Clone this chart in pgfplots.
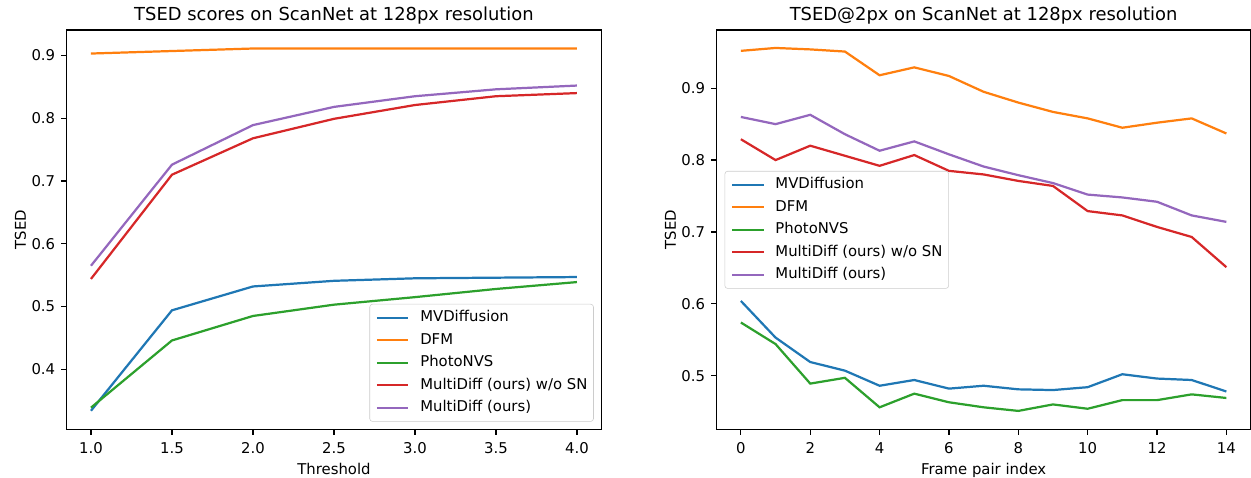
\documentclass[border=0pt]{standalone}
\usepackage{fontspec}
\setmainfont{DejaVu Sans}
\usepackage{pgfplots}
\pgfplotsset{compat=1.18}

\definecolor{c0}{HTML}{1F77B4}
\definecolor{c1}{HTML}{FF7F0E}
\definecolor{c2}{HTML}{2CA02C}
\definecolor{c3}{HTML}{D62728}
\definecolor{c4}{HTML}{9467BD}

\newcommand{\fs}{\fontsize{10.7}{12.8}\selectfont}

\pgfplotsset{
  mpl/.style={
    scale only axis,
    axis line style={line width=0.85pt},
    tick align=outside,
    major tick length=3.75pt,
    tick style={line width=0.85pt, black},
    xtick pos=lower, ytick pos=left,
    /pgf/number format/assume math mode=true,
    tick label style={font=\fs},
    xticklabel style={yshift=-2pt},
    yticklabel style={xshift=-1pt},
    label style={font=\fs},
    ylabel style={yshift=-3pt},
    title style={font=\fontsize{12.9}{15}\selectfont, at={(0.5,1)}, anchor=base, yshift=0.6pt},
    every axis plot/.append style={line width=1.6pt},
    legend style={draw=black!20, rounded corners=2pt, fill=white,
      fill opacity=0.8, text opacity=1, draw opacity=1,
      font=\fs, inner xsep=4.4pt, inner ysep=4.8pt,
      row sep=6.2pt, cells={anchor=west},
      nodes={inner sep=0pt, text height=7.8pt, text depth=2.2pt},
      /tikz/every odd column/.append style={column sep=7.7pt}},
    legend image code/.code={\draw[#1] (0pt,0pt) -- (22.7pt,0pt);},
  }
}

\begin{document}
\begin{tikzpicture}
% left: TSED vs threshold
\begin{axis}[mpl,
  at={(48.0pt,35.06pt)}, anchor=south west,
  width=384.9pt, height=287.5pt,
  xmin=0.85, xmax=4.15, ymin=0.3045, ymax=0.9405,
  xtick={1,1.5,2,2.5,3,3.5,4},
  ytick={0.4,0.5,0.6,0.7,0.8,0.9},
  xticklabel style={/pgf/number format/.cd, fixed, fixed zerofill, precision=1},
  yticklabel style={/pgf/number format/.cd, fixed, fixed zerofill, precision=1},
  xlabel={Threshold}, ylabel={TSED},
  title={TSED scores on ScanNet at 128px resolution},
  legend style={at={(0.986,0.019)}, anchor=south east},
]
\addplot[c0] coordinates {(1.0,0.334) (1.5,0.494) (2.0,0.532) (2.5,0.541) (3.0,0.545) (3.5,0.546) (4.0,0.547)};
\addplot[c1] coordinates {(1.0,0.903) (1.5,0.907) (2.0,0.911) (2.5,0.911) (3.0,0.911) (3.5,0.911) (4.0,0.911)};
\addplot[c2] coordinates {(1.0,0.339) (1.5,0.446) (2.0,0.485) (2.5,0.503) (3.0,0.515) (3.5,0.528) (4.0,0.539)};
\addplot[c3] coordinates {(1.0,0.544) (1.5,0.710) (2.0,0.768) (2.5,0.799) (3.0,0.821) (3.5,0.835) (4.0,0.840)};
\addplot[c4] coordinates {(1.0,0.565) (1.5,0.726) (2.0,0.789) (2.5,0.818) (3.0,0.835) (3.5,0.846) (4.0,0.852)};
\legend{MVDiffusion, DFM, PhotoNVS, MultiDiff (ours) w/o SN, MultiDiff (ours)}
\end{axis}

% right: TSED@2px per frame pair
\begin{axis}[mpl,
  at={(515.95pt,35.06pt)}, anchor=south west,
  width=384.5pt, height=287.5pt,
  xmin=-0.7, xmax=14.7, ymin=0.4254, ymax=0.981,
  xtick={0,2,4,6,8,10,12,14},
  ytick={0.5,0.6,0.7,0.8,0.9},
  yticklabel style={/pgf/number format/.cd, fixed, fixed zerofill, precision=1},
  xlabel={Frame pair index}, ylabel={TSED},
  title={TSED@2px on ScanNet at 128px resolution},
  legend style={at={(0.015,0.647)}, anchor=north west},
]
\addplot[c0] coordinates {(0,0.604) (1,0.553) (2,0.519) (3,0.507) (4,0.486) (5,0.494) (6,0.482) (7,0.486) (8,0.481) (9,0.480) (10,0.484) (11,0.502) (12,0.496) (13,0.494) (14,0.478)};
\addplot[c1] coordinates {(0,0.952) (1,0.956) (2,0.954) (3,0.951) (4,0.918) (5,0.929) (6,0.917) (7,0.895) (8,0.880) (9,0.867) (10,0.858) (11,0.845) (12,0.852) (13,0.858) (14,0.837)};
\addplot[c2] coordinates {(0,0.574) (1,0.544) (2,0.489) (3,0.497) (4,0.456) (5,0.475) (6,0.463) (7,0.456) (8,0.451) (9,0.460) (10,0.454) (11,0.466) (12,0.466) (13,0.474) (14,0.469)};
\addplot[c3] coordinates {(0,0.829) (1,0.800) (2,0.820) (3,0.806) (4,0.792) (5,0.807) (6,0.785) (7,0.780) (8,0.771) (9,0.764) (10,0.729) (11,0.723) (12,0.707) (13,0.693) (14,0.651)};
\addplot[c4] coordinates {(0,0.860) (1,0.850) (2,0.863) (3,0.836) (4,0.813) (5,0.826) (6,0.808) (7,0.791) (8,0.779) (9,0.768) (10,0.752) (11,0.748) (12,0.742) (13,0.723) (14,0.714)};
\legend{MVDiffusion, DFM, PhotoNVS, MultiDiff (ours) w/o SN, MultiDiff (ours)}
\end{axis}

\pgfresetboundingbox
\path (0,0) rectangle (900.72pt,344.16pt);
\end{tikzpicture}
\end{document}
